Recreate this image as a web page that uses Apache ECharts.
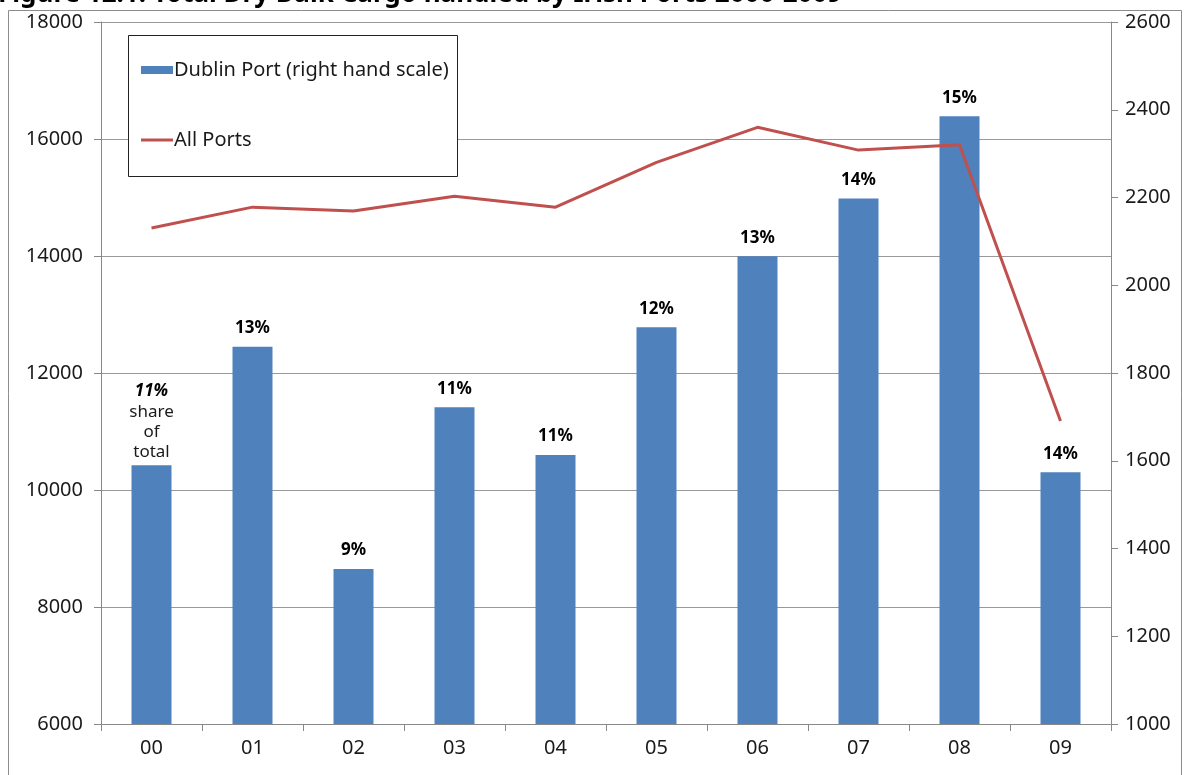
<!DOCTYPE html>
<html>
<head>
<meta charset="utf-8">
<script src="https://cdn.jsdelivr.net/npm/echarts@6/dist/echarts.min.js"></script>
<style>
html,body{margin:0;padding:0;background:#fff;}
#chart{width:1188px;height:775px;}
</style>
</head>
<body>
<div id="chart"></div>
<script>
const categories = ['00','01','02','03','04','05','06','07','08','09'];
const dublinPort = [1590, 1860, 1353, 1722, 1613, 1904, 2066, 2198, 2385, 1574];
const allPorts = [14480, 14835, 14770, 15020, 14835, 15600, 16200, 15810, 15900, 11180];
const shareLabels = ['11%','13%','9%','11%','11%','12%','13%','14%','15%','14%'];
const titleText = 'Figure 12.1: Total Dry Bulk Cargo handled by Irish Ports 2000-2009';

const FONT = '"Noto Sans", "Open Sans", sans-serif';
const plain = function (v) { return String(v); };
const barData = dublinPort.map(function (v, i) {
  return i === 0 ? {value: v, label: {distance: 3}} : v;
});
const chart = echarts.init(document.getElementById('chart'));
chart.setOption({
  backgroundColor: '#fff',
  animation: false,
  title: {
    text: titleText,
    left: -2, top: -18,
    padding: 0,
    textStyle: {fontFamily: FONT, fontSize: 26, fontWeight: 'bold', color: '#000'}
  },
  graphic: [
    {type: 'rect', shape: {x: 8.5, y: 10.5, width: 1173, height: 800},
     style: {fill: 'none', stroke: '#8c8c8c', lineWidth: 1}, silent: true, z: -1},
    {type: 'rect', shape: {x: 128.5, y: 35.5, width: 329, height: 141},
     style: {fill: '#fff', stroke: '#222', lineWidth: 1}, silent: true, z: 5}
  ],
  legend: {
    orient: 'vertical',
    left: 136, top: 53,
    itemGap: 46,
    itemWidth: 32, itemHeight: 8,
    z: 10,
    textStyle: {fontFamily: FONT, fontSize: 20, color: '#1a1a1a', padding: [0,0,0,-4], lineHeight: 24},
    data: [
      {name: 'Dublin Port (right hand scale)', icon: 'rect'},
      {name: 'All Ports', icon: 'path://M0,0 L32,0 L32,3 L0,3 Z', itemStyle: {color: '#C0504D'}}
    ]
  },
  grid: {left: 101, right: 77, top: 22, bottom: 51, containLabel: false},
  xAxis: {
    type: 'category',
    data: categories,
    boundaryGap: true,
    axisLine: {lineStyle: {color: '#888', width: 1}},
    axisTick: {show: true, length: 7, alignWithLabel: false, lineStyle: {color: '#888'}},
    axisLabel: {fontFamily: FONT, fontSize: 20, color: '#1a1a1a', margin: 14}
  },
  yAxis: [
    {
      type: 'value', min: 6000, max: 18000, interval: 2000, position: 'left',
      axisLine: {show: true, lineStyle: {color: '#888'}},
      axisTick: {show: true, length: 7, lineStyle: {color: '#888'}},
      axisLabel: {fontFamily: FONT, fontSize: 20, color: '#1a1a1a', margin: 18, formatter: plain},
      splitLine: {show: true, lineStyle: {color: '#999', width: 1}}
    },
    {
      type: 'value', min: 1000, max: 2600, interval: 200, position: 'right',
      axisLine: {show: true, lineStyle: {color: '#888'}},
      axisTick: {show: true, length: 7, lineStyle: {color: '#888'}},
      axisLabel: {fontFamily: FONT, fontSize: 20, color: '#1a1a1a', margin: 14, formatter: plain},
      splitLine: {show: false}
    }
  ],
  series: [
    {
      name: 'Dublin Port (right hand scale)',
      type: 'bar',
      yAxisIndex: 1,
      barWidth: 40,
      data: barData,
      itemStyle: {color: '#4F81BD'},
      label: {
        show: true, position: 'top', distance: 10,
        fontFamily: FONT, fontSize: 17, fontWeight: 'bold', color: '#000',
        formatter: function (p) {
          if (p.dataIndex === 0) {
            return '{bi|' + shareLabels[0] + '}\n{n|share}\n{n|of}\n{n|total}';
          }
          return shareLabels[p.dataIndex];
        },
        rich: {
          bi: {fontFamily: FONT, fontSize: 17, fontWeight: 'bold', fontStyle: 'italic', color: '#000', lineHeight: 22},
          n: {fontFamily: FONT, fontSize: 17, fontWeight: 'normal', color: '#1a1a1a', lineHeight: 20}
        }
      },
      z: 2
    },
    {
      name: 'All Ports',
      type: 'line',
      yAxisIndex: 0,
      data: allPorts,
      symbol: 'none',
      lineStyle: {color: '#C0504D', width: 3},
      itemStyle: {color: '#C0504D'},
      z: 3
    }
  ]
});
</script>
</body>
</html>
